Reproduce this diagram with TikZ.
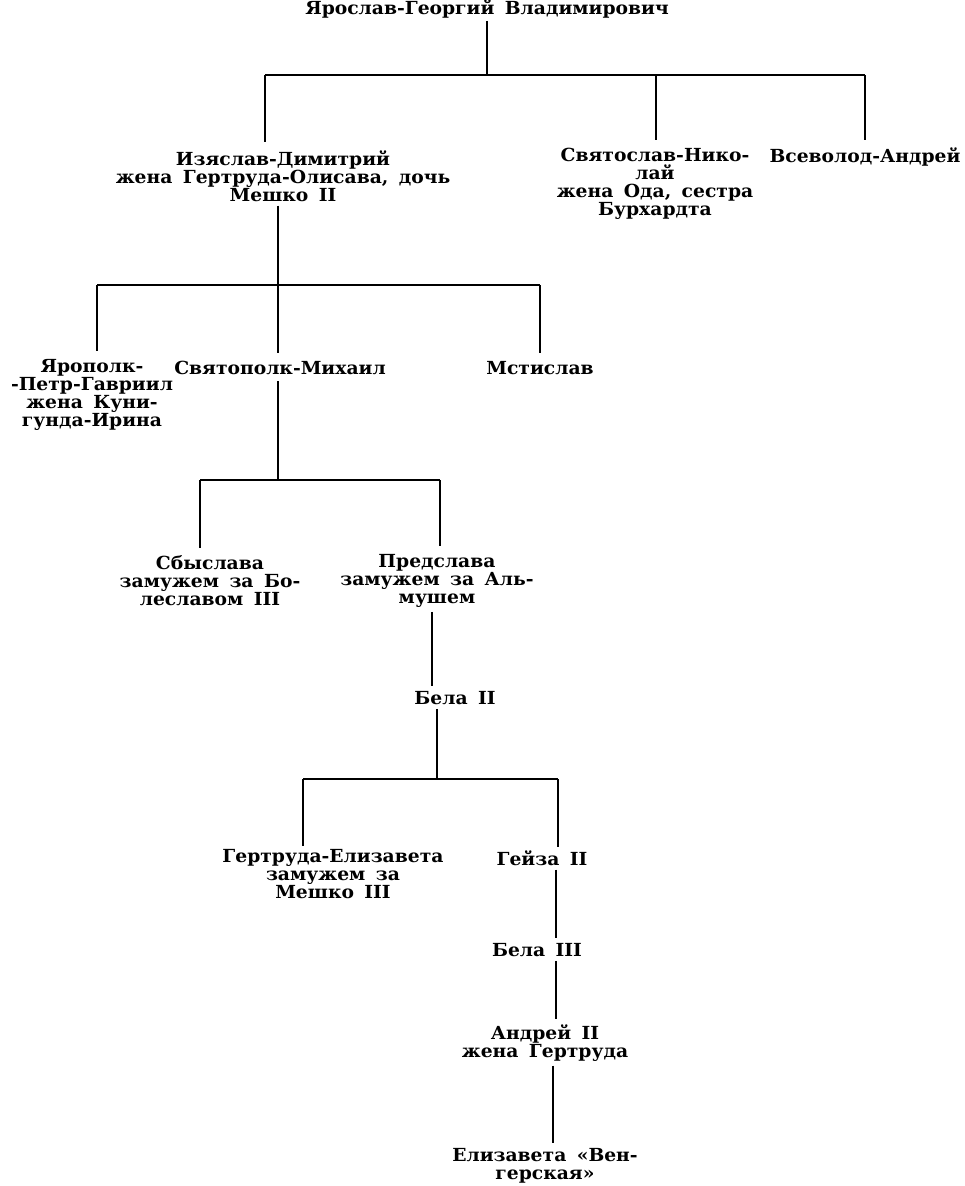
\documentclass[tikz,border=0pt]{standalone}
\usepackage{fontspec}
\setmainfont{DejaVu Serif}[FakeStretch=1.04, WordSpace=1.6]
\begin{document}
\begin{tikzpicture}[x=1pt,y=-1pt,
  person/.style={font=\fontsize{18}{18}\selectfont\bfseries, align=center, inner sep=0pt},
  rel/.style={line width=1.8pt},
  gapped/.style={rel, shorten <=4pt, shorten >=5pt}]
\useasboundingbox (0,0) rectangle (964,1186);
\fill[white] (0,0) rectangle (964,1186);

% nodes
\node[person, anchor=base] (yar) at (487,14) {Ярослав-Георгий Владимирович};
\node[person] (iz) at (283,176) {Изяслав-Димитрий\\жена Гертруда-Олисава, дочь\\Мешко II};
\node[person] (sv) at (655,184) {Святослав-Нико-\\лай\\жена Ода, сестра\\Бурхардта};
\node[person] (vs) at (865,157) {Всеволод-Андрей};
\node[person] (yp) at (92,395) {Ярополк-\\-Петр-Гавриил\\жена Куни-\\гунда-Ирина};
\node[person] (sp) at (280,368) {Святополк-Михаил};
\node[person] (ms) at (540,368) {Мстислав};
\node[person] (sb) at (210,581) {Сбыслава\\замужем за Бо-\\леславом III};
\node[person] (pr) at (437,581) {Предслава\\замужем за Аль-\\мушем};
\node[person] (b2) at (455,698) {Бела II};
\node[person] (ge) at (333,874) {Гертруда-Елизавета\\замужем за\\Мешко III};
\node[person] (gz) at (542,858) {Гейза II};
\node[person] (b3) at (537,950) {Бела III};
\node[person] (an) at (545,1043) {Андрей II\\жена Гертруда};
\node[person] (el) at (545,1166) {Елизавета «Вен-\\герская»};

% level 1
\coordinate (t0) at (487,75);
\coordinate (h1l) at (265,75);
\coordinate (h1m) at (656,75);
\coordinate (h1r) at (865,75);
\draw[rel, shorten <=3pt] (yar.south -| t0) -- (t0);
\draw[rel] (h1l) -- (h1r);
\draw[rel, shorten >=8pt] (h1l) -- (h1l |- iz.north);
\draw[rel, shorten >=8pt] (h1m) -- (h1m |- sv.north);
\draw[rel, shorten >=8pt] (h1r) -- (h1r |- vs.north);

% level 2
\coordinate (h2l) at (97,285);
\coordinate (h2m) at (278,285);
\coordinate (h2r) at (540,285);
\draw[rel, shorten <=4pt] (iz.south -| h2m) -- (h2m);
\draw[rel] (h2l) -- (h2r);
\draw[rel, shorten >=8pt] (h2l) -- (h2l |- yp.north);
\draw[rel, shorten >=8pt] (h2m) -- (h2m |- sp.north);
\draw[rel, shorten >=8pt] (h2r) -- (h2r |- ms.north);

% level 3
\coordinate (h3l) at (200,480);
\coordinate (h3m) at (278,480);
\coordinate (h3r) at (440,480);
\draw[rel, shorten <=6pt] (sp.south -| h3m) -- (h3m);
\draw[rel] (h3l) -- (h3r);
\draw[rel, shorten >=8pt] (h3l) -- (h3l |- sb.north);
\draw[rel, shorten >=8pt] (h3r) -- (h3r |- pr.north);

% Predslava -> Bela II
\coordinate (v1) at (432,0);
\draw[gapped] (pr.south -| v1) -- (b2.north -| v1);

% level 4
\coordinate (h4l) at (303,779);
\coordinate (h4m) at (437,779);
\coordinate (h4r) at (558,779);
\draw[rel, shorten <=4pt] (b2.south -| h4m) -- (h4m);
\draw[rel] (h4l) -- (h4r);
\draw[rel, shorten >=3pt] (h4l) -- (h4l |- ge.north);
\draw[rel, shorten >=3pt] (h4r) -- (h4r |- gz.north);

% Geza line
\coordinate (v2) at (556,0);
\coordinate (v3) at (553,0);
\draw[gapped] (gz.south -| v2) -- (b3.north -| v2);
\draw[gapped] (b3.south -| v2) -- (an.north -| v2);
\draw[gapped] (an.south -| v3) -- (el.north -| v3);
\end{tikzpicture}
\end{document}
